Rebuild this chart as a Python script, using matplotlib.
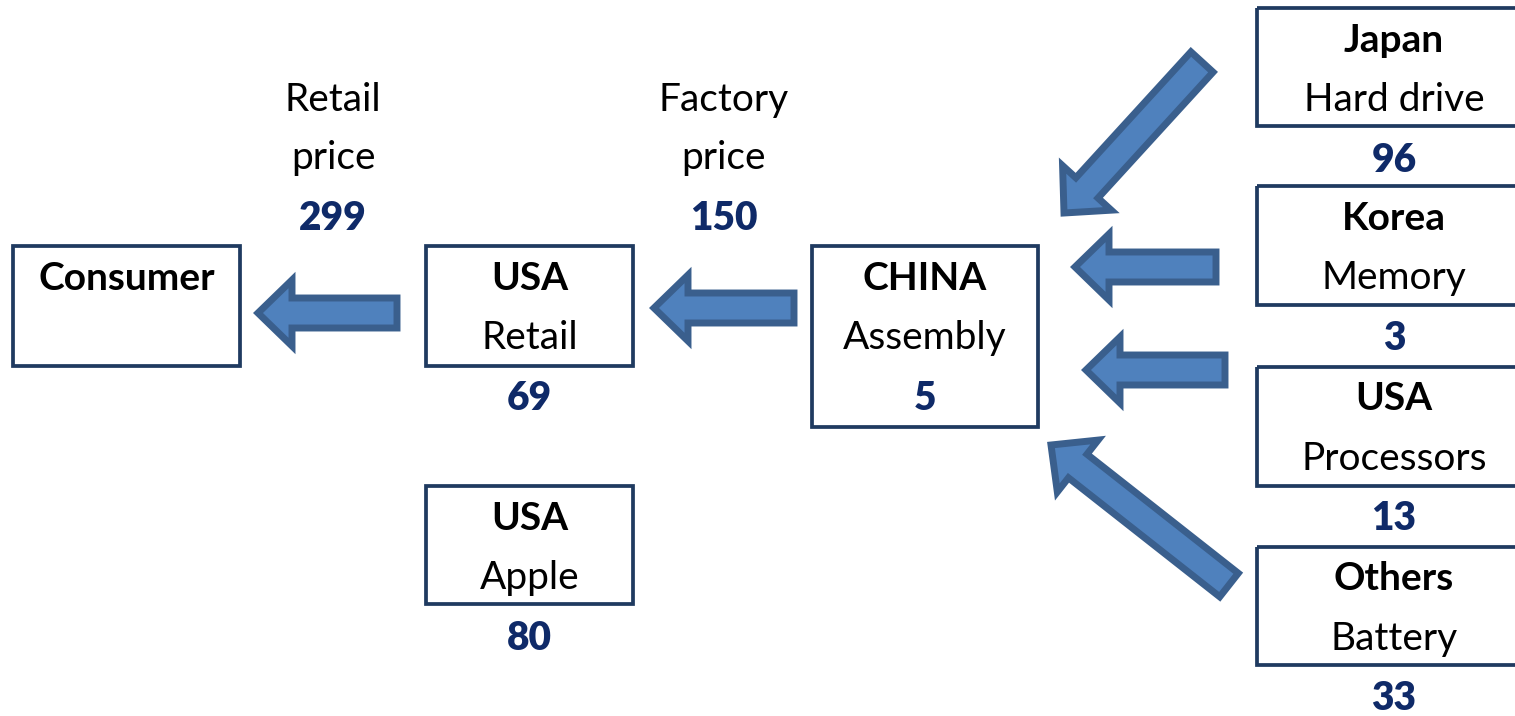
import matplotlib.pyplot as plt
from matplotlib.patches import Rectangle, FancyArrow

plt.rcParams['font.family'] = ['Lato', 'DejaVu Sans']

# node data
titles = ['Consumer', 'USA', 'USA', 'CHINA', 'Japan', 'Korea', 'USA', 'Others']
roles = ['', 'Retail', 'Apple', 'Assembly', 'Hard drive', 'Memory', 'Processors', 'Battery']
values = ['', '69', '80', '5', '96', '3', '13', '33']

price_labels = ['Retail\nprice', 'Factory\nprice']
prices = ['299', '150']

# layout in pixel units (x0, y0, x1, y1)
boxes = [
    (13, 246, 240, 366),
    (426, 246, 633, 366),
    (426, 486, 633, 604),
    (812, 246, 1038, 427),
    (1257, 8, 1530, 126),
    (1257, 186, 1530, 305),
    (1257, 367, 1530, 486),
    (1257, 547, 1530, 665),
]
price_x = [333, 724]

# arrows: tail -> tip
arrows = [
    ((397, 313), (258, 313)),
    ((794, 308), (654, 308)),
    ((1216, 267), (1075, 267)),
    ((1225, 370), (1086, 370)),
    ((1202, 62), (1064, 213)),
    ((1229, 585), (1051, 445)),
]

W, H = 1515, 716
fig = plt.figure(figsize=(W / 100, H / 100), dpi=100)
ax = fig.add_axes([0, 0, 1, 1])
ax.set_xlim(0, W)
ax.set_ylim(H, 0)
ax.axis('off')

box_col = '#1f3a60'
num_col = '#0f2a68'
fs = 28

for (x0, y0, x1, y1), t, r, v in zip(boxes, titles, roles, values):
    ax.add_patch(Rectangle((x0, y0), x1 - x0, y1 - y0, fill=False,
                           edgecolor=box_col, linewidth=2.7))
    cx = (x0 + x1) / 2 if x1 < W else 1394
    ax.text(cx, y0 + 32, t, ha='center', va='center', fontsize=fs,
            fontweight='bold', color='black')
    if r:
        ax.text(cx, y0 + 92, r, ha='center', va='center', fontsize=fs,
                color='black')
    if v:
        ax.text(cx, y0 + 152, v, ha='center', va='center', fontsize=fs,
                fontweight='heavy', color=num_col)

for px, lab, p in zip(price_x, price_labels, prices):
    a, b = lab.split('\n')
    ax.text(px, 100, a, ha='center', va='center', fontsize=fs)
    ax.text(px, 158, b, ha='center', va='center', fontsize=fs)
    ax.text(px, 218, p, ha='center', va='center', fontsize=fs,
            fontweight='heavy', color=num_col)

for (x0, y0), (x1, y1) in arrows:
    ax.add_patch(FancyArrow(x0, y0, x1 - x0, y1 - y0, width=30,
                            head_width=66, head_length=34,
                            length_includes_head=True,
                            facecolor='#4f81bd', edgecolor='#3a5f8d',
                            linewidth=5))

fig.savefig('out.png', dpi=100)
